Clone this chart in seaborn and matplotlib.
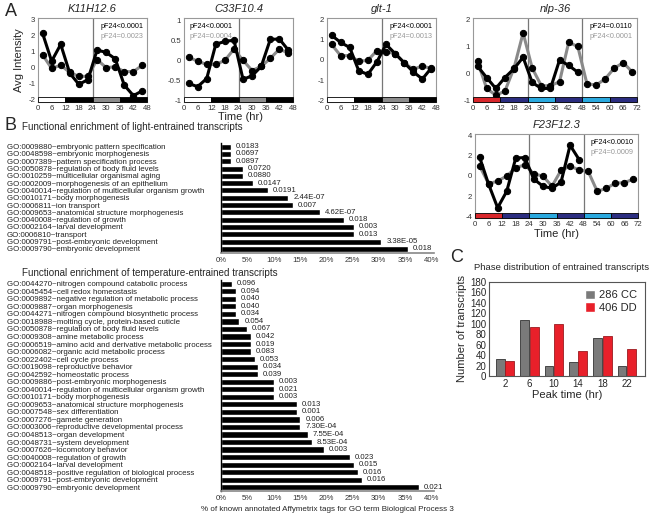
import matplotlib
matplotlib.use('Agg')
import matplotlib.pyplot as plt
from matplotlib.patches import Rectangle
import seaborn as sns
import pandas as pd

sns.set_style('white')
plt.rcParams['font.family'] = ['Liberation Sans', 'DejaVu Sans']
plt.rcParams['axes.unicode_minus'] = False

# ---- panel A data ----
t12 = [2, 6, 10, 14, 18, 22, 26, 30, 34, 38, 42, 46]
t18 = [2, 6, 10, 14, 18, 22, 26, 30, 34, 38, 42, 46, 50, 54, 58, 62, 66, 70]

k11_black = [2.15, 0.4, 1.45, -0.35, -1.05, -0.75, 1.1, 0.95, 0.55, -1.1, -1.75, -1.45]
k11_gray = [0.8, -0.05, 0.15, -0.3, -0.55, -0.55, 0.5, 0.0, 0.05, -0.25, -0.25, 0.15]

c33_black = [-0.57, -0.65, -0.45, 0.4, 0.47, 0.5, -0.47, -0.38, -0.15, 0.52, 0.53, 0.25]
c33_gray = [0.08, -0.02, -0.1, -0.1, 0.0, 0.28, 0.0, -0.25, -0.15, 0.05, 0.28, 0.18]

glt_black = [1.2, 0.85, 0.6, -0.55, -0.72, -0.1, 0.75, 0.3, -0.15, -0.6, -0.95, -0.4]
glt_gray = [0.75, 0.2, 0.2, -0.08, -0.03, 0.45, 0.4, 0.3, -0.15, -0.48, -0.3, -0.45]

nlp_black = [0.27, -0.15, -0.55, -0.15, 0.18, 0.6, -0.33, -0.55, -0.55, 0.5, 0.3, 0.05]
nlp_gray = [0.45, -0.55, -0.8, -0.65, 0.2, 1.5, 0.2, -0.45, -0.45, -0.3, 1.15, 1.0,
            -0.37, -0.43, -0.2, 0.2, 0.4, 0.05]

f23_black = [1.85, -0.8, -3.1, -1.5, 1.75, 1.8, -0.3, -1.0, -1.2, -0.6, 3.0, 1.6]
f23_gray = [1.0, -0.75, -0.5, 0.0, 0.8, 1.1, 0.2, 0.0, -1.0, 0.55, 0.95, 0.6,
            0.45, -1.5, -1.2, -0.7, -0.65, -0.3]

bw_bar = [(0, 12, 'white'), (12, 24, 'black'), (24, 36, '#8c8c8c'), (36, 48, 'black')]
col_bar = [(0, 12, '#d8262b'), (12, 24, '#2b2d80'), (24, 36, '#2aa9df'),
           (36, 48, '#2b2d80'), (48, 60, '#2aa9df'), (60, 72, '#2b2d80')]

# ---- panel B data ----
light_terms = [
    'GO:0009880~embryonic pattern specification',
    'GO:0048598~embryonic morphogenesis',
    'GO:0007389~pattern specification process',
    'GO:0050878~regulation of body fluid levels',
    'GO:0010259~multicellular organismal aging',
    'GO:0002009~morphogenesis of an epithelium',
    'GO:0040014~regulation of multicellular organism growth',
    'GO:0010171~body morphogenesis',
    'GO:0006811~ion transport',
    'GO:0009653~anatomical structure morphogenesis',
    'GO:0040008~regulation of growth',
    'GO:0002164~larval development',
    'GO:0006810~transport',
    'GO:0009791~post-embryonic development',
    'GO:0009790~embryonic development',
]
light_pct = [1.9, 1.9, 1.9, 4.2, 4.2, 6.1, 9.0, 12.8, 13.7, 18.9, 23.3, 25.2, 25.2, 30.5, 35.6]
light_p = ['0.0183', '0.0697', '0.0897', '0.0720', '0.0880', '0.0147', '0.0191', '2.44E-07',
           '0.007', '4.62E-07', '0.018', '0.003', '0.013', '3.38E-05', '0.018']

temp_terms = [
    'GO:0044270~nitrogen compound catabolic process',
    'GO:0045454~cell redox homeostasis',
    'GO:0009892~negative regulation of metabolic process',
    'GO:0009887~organ morphogenesis',
    'GO:0044271~nitrogen compound biosynthetic process',
    'GO:0018988~molting cycle, protein-based cuticle',
    'GO:0050878~regulation of body fluid levels',
    'GO:0009308~amine metabolic process',
    'GO:0006519~amino acid and derivative metabolic process',
    'GO:0006082~organic acid metabolic process',
    'GO:0022402~cell cycle process',
    'GO:0019098~reproductive behavior',
    'GO:0042592~homeostatic process',
    'GO:0009886~post-embryonic morphogenesis',
    'GO:0040014~regulation of multicellular organism growth',
    'GO:0010171~body morphogenesis',
    'GO:0009653~anatomical structure morphogenesis',
    'GO:0007548~sex differentiation',
    'GO:0007276~gamete generation',
    'GO:0003006~reproductive developmental process',
    'GO:0048513~organ development',
    'GO:0048731~system development',
    'GO:0007626~locomotory behavior',
    'GO:0040008~regulation of growth',
    'GO:0002164~larval development',
    'GO:0048518~positive regulation of biological process',
    'GO:0009791~post-embryonic development',
    'GO:0009790~embryonic development',
]
temp_pct = [2.0, 2.8, 2.8, 2.8, 2.8, 3.5, 5.0, 5.7, 5.7, 5.7, 6.4, 7.1, 7.1, 10.0,
            10.0, 10.0, 14.4, 14.4, 15.1, 15.1, 16.5, 17.3, 19.5, 24.6, 25.3, 26.0,
            26.8, 37.7]
temp_p = ['0.096', '0.094', '0.040', '0.040', '0.034', '0.054', '0.067', '0.042', '0.019',
          '0.083', '0.053', '0.034', '0.039', '0.003', '0.021', '0.003', '0.013', '0.001',
          '0.006', '7.30E-04', '7.55E-04', '8.53E-04', '0.003', '0.023', '0.015', '0.016',
          '0.016', '0.021']
pct_ticks = [0, 5, 10, 15, 20, 25, 30, 35, 40]

# ---- panel C data ----
peak_times = ['2', '6', '10', '14', '18', '22']
cc_counts = [32, 108, 20, 27, 72, 20]
dd_counts = [28, 93, 99, 47, 76, 51]

W, H = 656, 514
fig = plt.figure(figsize=(W / 100, H / 100), dpi=100)


def box(l, t, r, b):
    return [l / W, 1 - b / H, (r - l) / W, (b - t) / H]


def time_panel(rect, title, black, gray, tg, tb, ylim, yticks, bar, vlines, xmax, p1, p2,
               ylabels=None, pside='right'):
    ax = fig.add_axes(box(*rect))
    sns.lineplot(x=tg, y=gray, color='#8a8a8a', lw=2.2, marker='o', markersize=4.5,
                 markerfacecolor='black', markeredgecolor='black', ax=ax)
    sns.lineplot(x=tb, y=black, color='black', lw=2.2, marker='o', markersize=4.5,
                 markerfacecolor='black', markeredgecolor='black', ax=ax)
    for v in vlines:
        ax.axvline(v, color='#777777', lw=0.9, zorder=0)
    tr = ax.get_xaxis_transform()
    for a, b, c in bar:
        ax.add_patch(Rectangle((a, 0), b - a, 0.065, transform=tr, facecolor=c,
                               edgecolor='black', lw=0.6, clip_on=False, zorder=3))
    ax.set_xlim(0, xmax)
    ax.set_ylim(*ylim)
    ax.set_xticks(range(0, xmax + 1, 6))
    ax.set_yticks(yticks)
    if ylabels is not None:
        ax.set_yticklabels(ylabels)
    ax.tick_params(labelsize=5.6, length=2, direction='in', colors='#333333', pad=2)
    for s in ax.spines.values():
        s.set_color('#999999')
        s.set_linewidth(0.8)
    ax.set_title(title, fontsize=8, style='italic', pad=4)
    px_, ha = (0.97, 'right') if pside == 'right' else (0.05, 'left')
    ax.text(px_, 0.94, p1, transform=ax.transAxes, ha=ha, va='top', fontsize=5.2,
            color='black')
    ax.text(px_, 0.82, p2, transform=ax.transAxes, ha=ha, va='top', fontsize=5.2,
            color='#999999')
    ax.set_xlabel('')
    ax.set_ylabel('')
    return ax


ax1 = time_panel((38, 18, 147, 102), 'K11H12.6', k11_black, k11_gray, t12, t12,
                 (-2.15, 3.1), [-2, -1, 0, 1, 2, 3], bw_bar, [24], 48,
                 'pF24<0.0001', 'pF24=0.0023')
ax1.set_ylabel('Avg Intensity', fontsize=8, labelpad=3)
ax2 = time_panel((184, 18, 293, 102), 'C33F10.4', c33_black, c33_gray, t12, t12,
                 (-1.03, 1.05), [-1, -0.5, 0, 0.5, 1], bw_bar, [24], 48,
                 'pF24<0.0001', 'pF24=0.0004', ['-1', '-0.5', '0', '0.5', '1'],
                 pside='left')
ax2.text(0.52, -0.18, 'Time (hr)', transform=ax2.transAxes, ha='center', va='center',
         fontsize=8)
ax3 = time_panel((327, 18, 436, 102), 'glt-1', glt_black, glt_gray, t12, t12,
                 (-2.08, 2.05), [-2, -1, 0, 1, 2], bw_bar, [24], 48,
                 'pF24<0.0001', 'pF24=0.0013')
ax4 = time_panel((473, 18, 637, 102), 'nlp-36', nlp_black, nlp_gray, t18, t12,
                 (-1.05, 2.05), [-1, 0, 1, 2], col_bar, [24, 48], 72,
                 'pF24=0.0110', 'pF24<0.0001')
ax5 = time_panel((475, 134, 638, 218), 'F23F12.3', f23_black, f23_gray, t18, t12,
                 (-4.1, 4.1), [-4, -2, 0, 2, 4], col_bar, [24, 48], 72,
                 'pF24<0.0010', 'pF24=0.0009', ['-4', '2', '0', '2', '4'])
ax5.set_xlabel('Time (hr)', fontsize=8, labelpad=1)


def go_panel(rect, terms, pct, pvals, title, title_y):
    ax = fig.add_axes(box(*rect))
    sns.barplot(x=pct, y=terms, orient='h', color='black', width=0.82, ax=ax,
                saturation=1)
    ax.set_xlim(0, 40.5)
    ax.set_ylim(len(terms) - 0.5, -0.5)
    ax.set_xticks(pct_ticks)
    ax.set_xticklabels([f'{v}%' for v in pct_ticks])
    ax.set_yticks(range(len(terms)))
    ax.set_yticklabels(terms, ha='left', fontsize=5.7, color='#222222')
    ax.tick_params(axis='y', length=0, pad=(rect[0] - 7) * 0.72)
    ax.tick_params(axis='x', length=0, labelsize=5.6, colors='#333333', pad=3)
    for s in ['top', 'right']:
        ax.spines[s].set_visible(False)
    ax.spines['left'].set_color('black')
    ax.spines['left'].set_linewidth(1.0)
    ax.spines['bottom'].set_color('#888888')
    ax.spines['bottom'].set_linewidth(1.2)
    ax.bar_label(ax.containers[0], labels=pvals, padding=3.5, fontsize=5.6,
                 color='#222222')
    ax.set_xlabel('')
    ax.set_ylabel('')
    fig.text(22 / W, 1 - title_y / H, title, fontsize=7.1, va='center', ha='left')
    return ax


bx1 = go_panel((221, 143, 434, 252.5), light_terms, light_pct, light_p,
               'Functional enrichment of light-entrained transcripts', 127)
bx2 = go_panel((221, 280, 434, 491), temp_terms, temp_pct, temp_p,
               'Functional enrichment of temperature-entrained transcripts', 273)
bx2.set_xlabel('% of known annotated Affymetrix tags for GO term Biological Process 3',
               fontsize=5.8, labelpad=3)

# ---- panel C ----
df = pd.DataFrame({
    'peak': peak_times * 2,
    'count': cc_counts + dd_counts,
    'group': ['286 CC'] * len(peak_times) + ['406 DD'] * len(peak_times),
})
cx = fig.add_axes(box(489, 282, 645, 376))
sns.barplot(data=df, x='peak', y='count', hue='group',
            palette={'286 CC': '#7a7a7a', '406 DD': '#e8202a'},
            width=0.78, gap=0.08, saturation=1, ax=cx)
for patch in cx.containers[0]:
    patch.set_edgecolor('#333333')
    patch.set_linewidth(0.6)
for patch in cx.containers[1]:
    patch.set_edgecolor('#9b1b1f')
    patch.set_linewidth(0.6)
cx.set_ylim(0, 180)
cx.set_xlim(-0.66, 5.75)
cx.set_yticks(range(0, 181, 20))
cx.tick_params(labelsize=7, length=2, direction='in', pad=2)
for s in cx.spines.values():
    s.set_color('#555555')
    s.set_linewidth(0.8)
cx.set_xlabel('Peak time (hr)', fontsize=8, labelpad=1)
cx.set_ylabel('Number of transcripts', fontsize=8, labelpad=2)
cx.legend(loc='upper right', frameon=False, fontsize=8, handlelength=0.9,
          handleheight=0.9, handletextpad=0.4, labelspacing=0.2, borderaxespad=0.3)
fig.text(562 / W, 1 - 267 / H, 'Phase distribution of entrained transcripts',
         fontsize=6.8, ha='center', va='center')

# panel letters
fig.text(5 / W, 1 - 12 / H, 'A', fontsize=13, va='center')
fig.text(5 / W, 1 - 126 / H, 'B', fontsize=13, va='center')
fig.text(450 / W, 1 - 258 / H, 'C', fontsize=13, va='center')

fig.savefig('out.png', dpi=100)
